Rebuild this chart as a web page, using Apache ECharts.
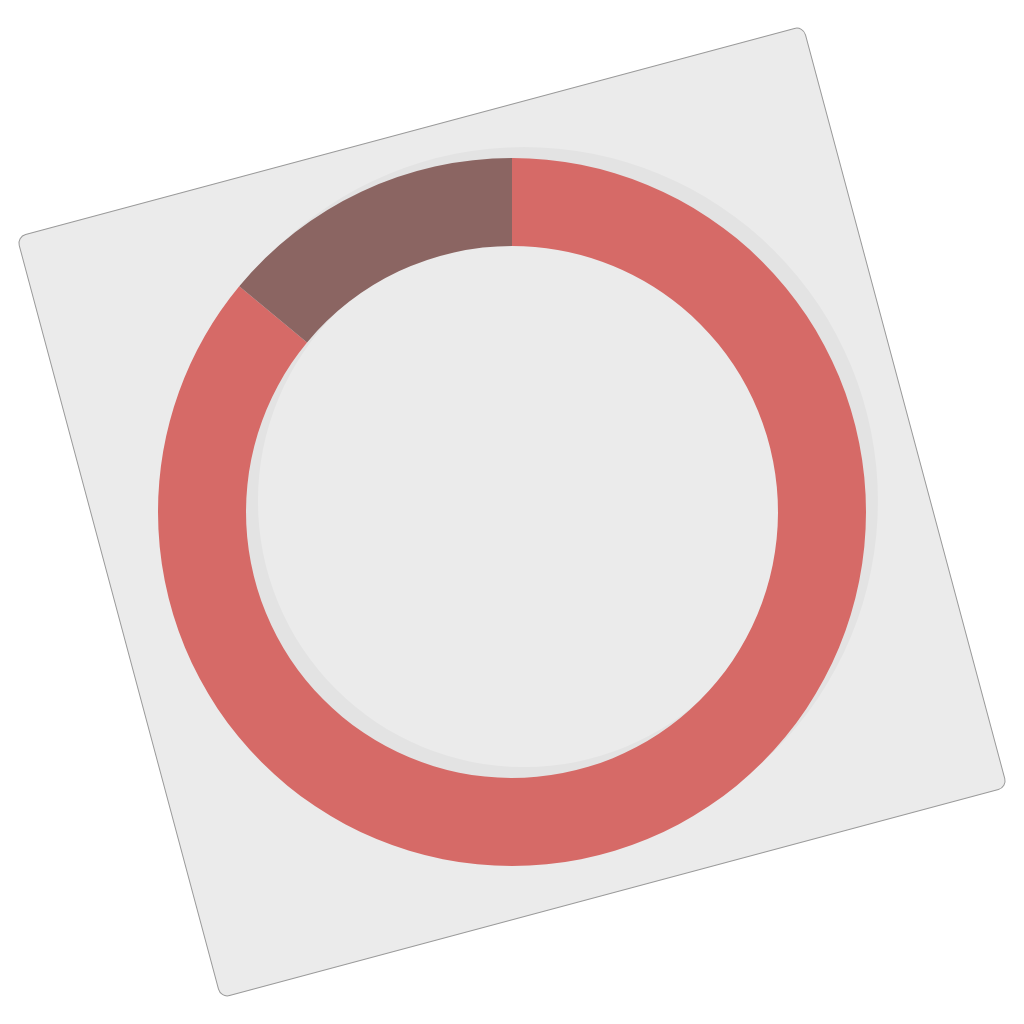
<!DOCTYPE html>
<html>
<head>
<meta charset="utf-8">
<script src="https://cdn.jsdelivr.net/npm/echarts@6/dist/echarts.min.js"></script>
<style>
  html, body { margin: 0; padding: 0; background: #ffffff; }
  #main { width: 1024px; height: 1024px; }
</style>
</head>
<body>
<div id="main"></div>
<script>
// slice data, clockwise from 12 o'clock
var categories = ['A', 'B'];
var values = [86, 14];
var colors = ['#d66a67', '#8b6562'];

var chart = echarts.init(document.getElementById('main'));

var pieData = categories.map(function(c, i) {
    return { name: c, value: values[i], itemStyle: { color: colors[i] } };
});

chart.setOption({
    backgroundColor: '#ffffff',
    animation: false,
    graphic: [{
        type: 'rect',
        x: 512,
        y: 512,
        rotation: 15 * Math.PI / 180,
        z: -10,
        shape: { x: -407, y: -394, width: 814, height: 788, r: 9 },
        style: { fill: '#ebebeb', stroke: '#9a9a9a', lineWidth: 1 }
    }],
    series: [{
        // soft drop shadow ring behind the donut
        type: 'pie',
        center: [524, 501],
        radius: [266, 354],
        silent: true,
        z: 1,
        label: { show: false },
        labelLine: { show: false },
        itemStyle: { color: 'rgba(0,0,0,0.03)' },
        data: [{ name: 'shadow', value: 1 }]
    }, {
        type: 'pie',
        center: [512, 512],
        radius: [266, 354],
        startAngle: 90,
        clockwise: true,
        z: 2,
        label: { show: false },
        labelLine: { show: false },
        emphasis: { disabled: true },
        data: pieData
    }]
});
</script>
</body>
</html>
